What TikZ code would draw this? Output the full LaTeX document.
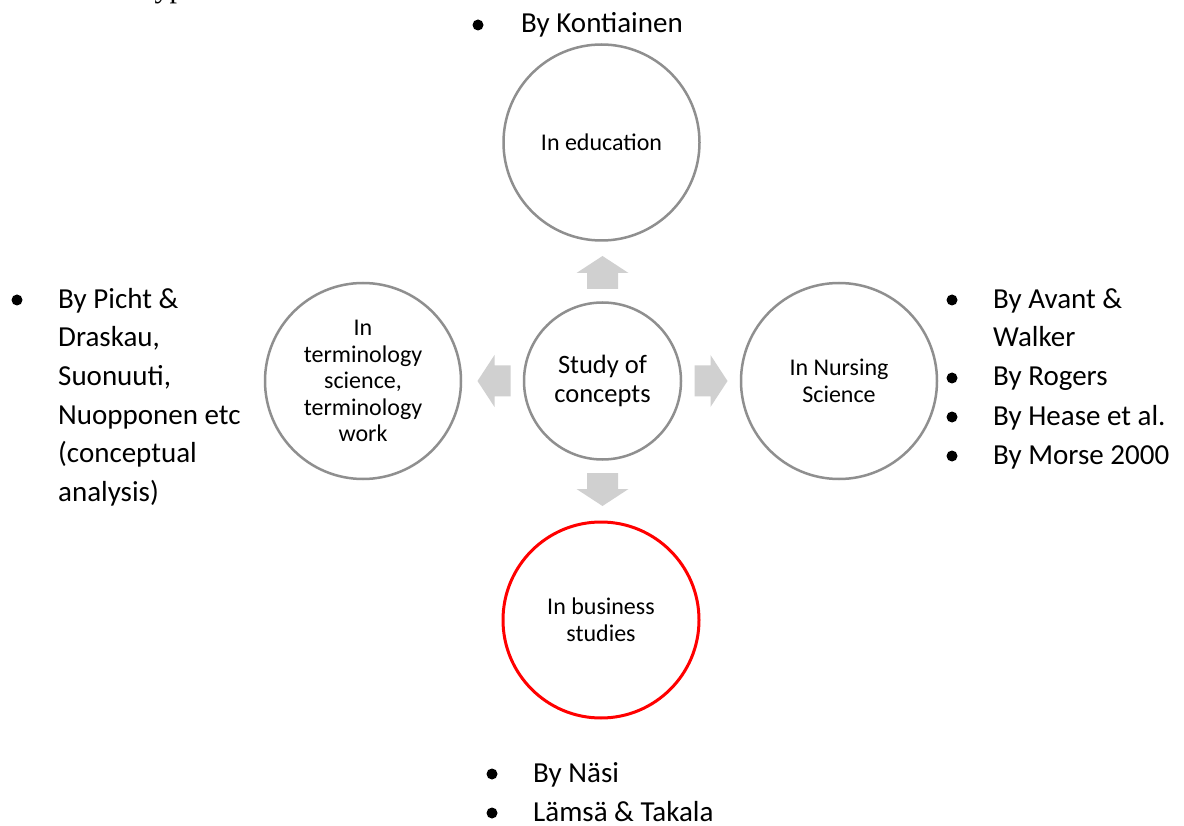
\documentclass[tikz,border=0pt]{standalone}
\usepackage{fontspec}
\setmainfont{Carlito}
\newfontfamily\serifface{Liberation Serif}
\definecolor{ringgray}{RGB}{143,143,143}
\definecolor{arrowgray}{RGB}{208,208,208}
\definecolor{ringred}{RGB}{255,0,0}

% block arrow pointing away from a node, drawn along +x and rotated
\newcommand\blockarrow[2]{%
  \begin{scope}[shift={(#1.center)}, rotate=#2]
    \fill[flow] (92,-15.5) -- (108,-15.5) -- (108,-26) -- (125,0)
      -- (108,26) -- (108,15.5) -- (92,15.5) -- cycle;
  \end{scope}}

\begin{document}
\begin{tikzpicture}[x=1pt, y=-1pt,
  topic/.style={circle, draw=ringgray, line width=2.5pt, fill=white,
    minimum size=196pt, inner sep=0pt, align=center,
    font=\fontsize{24}{26.5}\selectfont},
  hub/.style={topic, minimum size=157pt, font=\fontsize{26.5}{29}\selectfont},
  flow/.style={fill=arrowgray, draw=none},
  % multi-line items are placed by the baseline of their last line
  item/.style={anchor=base west, align=left, inner sep=0pt,
    font=\fontsize{29}{38.7}\selectfont},
  dot/.style={circle, fill=black, draw=none, inner sep=0pt, minimum size=11pt}]

\useasboundingbox (0,0) rectangle (1184,826);
\fill[white] (0,0) rectangle (1184,826);

% running text cut at the top edge
\begin{scope}
  \clip (0,0) rectangle (1184,826);
  \node[anchor=base west, inner sep=0pt,
    font=\serifface\fontsize{30}{36}\selectfont] (heading) at (146,-2) {types};
\end{scope}

% circles
\node[hub] (hub) at (602.5,381) {Study of\\concepts};
\node[topic] (edu) at (601.5,142.5) {In education};
\node[topic] (term) at (363,381) {In\\terminology\\science,\\terminology\\work};
\node[topic] (nurse) at (839,381) {In Nursing\\Science};
\node[topic, draw=ringred, line width=3pt] (biz) at (601,620) {In business\\studies};

% block arrows from the hub
\blockarrow{hub}{0}
\blockarrow{hub}{90}
\blockarrow{hub}{180}
\blockarrow{hub}{270}

% top list
\node[dot] (d1) at (478,25) {};
\node[item] (t1) at (521,33) {By Kontiainen};

% left list
\node[dot] (d2) at (17,300) {};
\node[item] (t2) at (58,501.5) {By Picht \&\\Draskau,\\Suonuuti,\\Nuopponen etc\\(conceptual\\analysis)};

% right list
\node[dot] (d3) at (952,300) {};
\node[item] (t3) at (993,347) {By Avant \&\\Walker};
\node[dot] (d4) at (952,378) {};
\node[item] (t4) at (993,386) {By Rogers};
\node[dot] (d5) at (952,417) {};
\node[item] (t5) at (993,425) {By Hease et al.};
\node[dot] (d6) at (952,456) {};
\node[item] (t6) at (993,464) {By Morse 2000};

% bottom list
\node[dot] (d7) at (492,774) {};
\node[item] (t7) at (533,782) {By Näsi};
\node[dot] (d8) at (492,813) {};
\node[item] (t8) at (533,821) {Lämsä \& Takala};

\end{tikzpicture}
\end{document}
